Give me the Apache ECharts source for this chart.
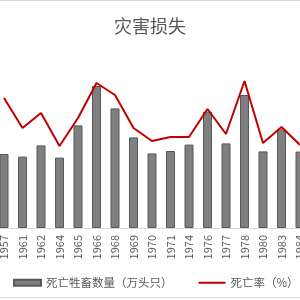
<!DOCTYPE html>
<html><head><meta charset="utf-8">
<script src="https://cdn.jsdelivr.net/npm/echarts@6/dist/echarts.min.js"></script>
<style>html,body{margin:0;padding:0;background:#fff}#c{width:300px;height:300px}</style>
</head><body><div id="c"></div>
<script>
const years = ['1957','1961','1962','1964','1965','1966','1968','1969','1970','1971','1974','1976','1977','1978','1980','1983','1984'];
const deadLivestock = [370,357,413,352,513,710,598,453,373,385,417,582,423,665,383,493,382];
const deathRate = [13.0,10.0,11.5,8.2,11.0,14.5,13.3,10.0,8.7,9.1,9.1,11.9,9.4,14.7,8.5,10.1,8.3];
const seriesNames = ['死亡牲畜数量（万头只）','死亡率（%）'];
const titleText = '灾害损失';

const FONT = '"Noto Sans CJK SC", sans-serif';
const chart = echarts.init(document.getElementById('c'), null, {renderer:'canvas'});
chart.setOption({
  animation:false,
  backgroundColor:'#fff',
  title:{text:titleText,left:'center',top:12,textStyle:{fontFamily:FONT,fontSize:18,fontWeight:'normal',color:'#595959'}},
  legend:{
    left:13, top:277, padding:0, width:400, itemWidth:27, itemHeight:6, itemGap:26,
    textStyle:{fontFamily:FONT,fontSize:11.5,color:'#595959'},
    data:[
      {name:seriesNames[0],icon:'rect'},
      {name:seriesNames[1],icon:'path://M0,0H27V2H0Z',itemStyle:{color:'#c00000'}}
    ]
  },
  grid:{left:-5.25,right:-9.25,top:68,bottom:72,containLabel:false,outerBoundsMode:'none'},
  xAxis:{
    type:'category',data:years,boundaryGap:true,
    axisLine:{lineStyle:{color:'#d9d9d9',width:1}},
    axisTick:{show:false},
    axisLabel:{rotate:90,margin:7,interval:0,fontFamily:FONT,fontSize:11,color:'#595959'}
  },
  yAxis:[
    {type:'value',min:0,max:800,show:false,splitLine:{show:false}},
    {type:'value',min:0,max:16,show:false,splitLine:{show:false}}
  ],
  graphic:[
    {type:'line',shape:{x1:0,y1:0.5,x2:300,y2:0.5},style:{stroke:'#d9d9d9',lineWidth:1},silent:true},
    {type:'line',shape:{x1:0,y1:297.5,x2:300,y2:297.5},style:{stroke:'#d9d9d9',lineWidth:1},silent:true}
  ],
  series:[
    {name:seriesNames[0],type:'bar',data:deadLivestock,barWidth:9,yAxisIndex:0,
     itemStyle:{color:'#7f7f7f',borderColor:'#595959',borderWidth:1}},
    {name:seriesNames[1],type:'line',data:deathRate,yAxisIndex:1,symbol:'none',
     lineStyle:{color:'#c00000',width:2},itemStyle:{color:'#c00000'}}
  ]
});
</script></body></html>
